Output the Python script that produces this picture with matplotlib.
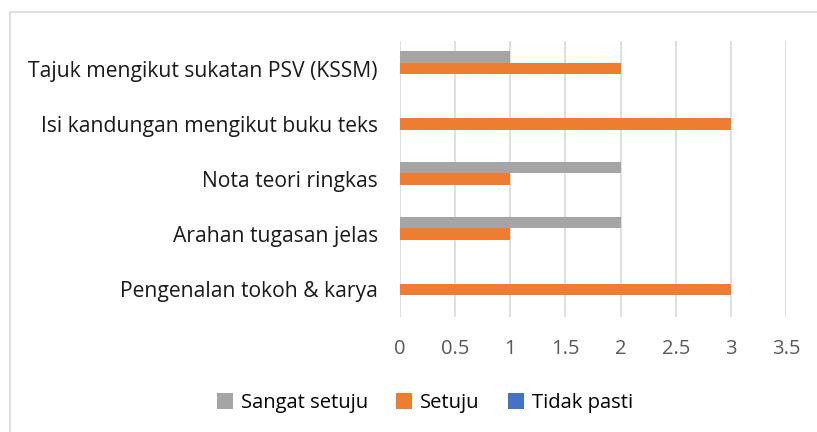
import matplotlib.pyplot as plt
from matplotlib.patches import Rectangle
import numpy as np

categories = [
    "Pengenalan tokoh & karya",
    "Arahan tugasan jelas",
    "Nota teori ringkas",
    "Isi kandungan mengikut buku teks",
    "Tajuk mengikut sukatan PSV (KSSM)",
]
sangat_setuju = [0, 2, 2, 0, 1]
setuju = [3, 1, 1, 3, 2]
tidak_pasti = [0, 0, 0, 0, 0]
x_ticks = [0, 0.5, 1, 1.5, 2, 2.5, 3, 3.5]

plt.rcParams["font.family"] = ["Open Sans", "DejaVu Sans"]

fig = plt.figure(figsize=(8.17, 4.32), dpi=100)
ax = fig.add_axes([400 / 817, 1 - 317 / 432, 386 / 817, 276 / 432])

# chart border like the Excel chart area
fig.patches.append(Rectangle((10 / 817, -0.01), 1.0, 1 - 11.5 / 432 + 0.01,
                             transform=fig.transFigure, fill=False,
                             edgecolor="#d9d9d9", linewidth=1.2))

y = np.arange(len(categories))
h = 0.208
ax.barh(y + h, sangat_setuju, height=h, color="#a5a5a5", label="Sangat setuju", zorder=3)
ax.barh(y, setuju, height=h, color="#ed7d31", label="Setuju", zorder=3)
ax.barh(y - h, tidak_pasti, height=h, color="#4472c4", label="Tidak pasti", zorder=3)

ax.set_xlim(0, 3.5)
ax.set_ylim(-0.5, len(categories) - 0.5)
ax.set_xticks(x_ticks)
ax.set_xticklabels([f"{t:g}" for t in x_ticks], fontsize=14.5, color="#595959")
ax.set_yticks(y)
ax.set_yticklabels(categories, fontsize=15.2, color="#1a1a1a")
ax.tick_params(axis="both", length=0)
ax.tick_params(axis="x", pad=16)
ax.tick_params(axis="y", pad=16)
ax.grid(axis="x", color="#d9d9d9", linewidth=1.2, zorder=0)
for s in ax.spines.values():
    s.set_visible(False)

fig.legend(loc="center", bbox_to_anchor=(425 / 817, 1 - 403 / 432), ncol=3,
           frameon=False, fontsize=14.5, handlelength=0.8, handleheight=0.8,
           handletextpad=0.4, columnspacing=1.4)

fig.savefig("out.png", dpi=100)
